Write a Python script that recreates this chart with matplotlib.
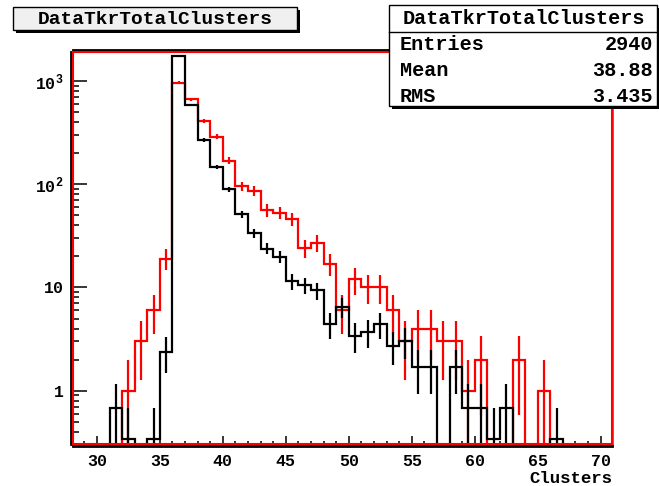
import numpy as np
import matplotlib
matplotlib.use("Agg")
import matplotlib.pyplot as plt
from matplotlib.patches import Rectangle
from matplotlib.ticker import MultipleLocator, FixedLocator, NullFormatter, LogLocator

W, H = 659, 486

# bin lower edges 28..70, width 1
first_edge = 28
red_counts = [0, 0, 0, 0, 1, 3, 6, 19, 959, 662, 411, 288, 169, 96, 86, 56, 53, 46,
              24, 27, 17, 6, 12, 10, 10, 6, 3, 4, 4, 3, 3, 1, 2, 0, 0, 2, 0, 1,
              0, 0, 0, 0, 0]
black_values = [0, 0, 0, 0.68, 0.34, 0, 0.34, 2.38, 1750, 579, 267, 147, 89, 51, 33.4,
                23.8, 19.7, 11.5, 10.5, 9.35, 4.4, 6.5, 3.4, 3.74, 4.4, 2.72, 3.06,
                1.70, 1.70, 0, 1.70, 0.68, 0.68, 0.34, 0.68, 0, 0, 0, 0.34,
                0, 0, 0, 0]
black_weight = 0.34

stats_title = "DataTkrTotalClusters"
stats_rows = [("Entries", "2940"), ("Mean", "38.88"), ("RMS", "3.435")]

plt.rcParams["font.family"] = ["Liberation Mono", "DejaVu Sans Mono"]
plt.rcParams["font.weight"] = "bold"
plt.rcParams["mathtext.fontset"] = "custom"
plt.rcParams["mathtext.rm"] = "Liberation Mono:bold"
plt.rcParams["mathtext.default"] = "rm"


def fx(x):
    return x / W


def fy(y):
    return 1 - y / H


def draw_hist(ax, vals, errs, color):
    vals = np.asarray(vals, dtype=float)
    edges = first_edge + np.arange(len(vals) + 1)
    centers = edges[:-1] + 0.5
    ax.stairs(np.where(vals > 0, vals, 1e-3), edges, color=color, lw=1.6,
              baseline=None, zorder=3)
    m = vals > 0
    lo = np.maximum(vals[m] - errs[m], 1e-3)
    hi = vals[m] + errs[m]
    ax.vlines(centers[m], lo, hi, color=color, lw=1.6, zorder=3)


fig = plt.figure(figsize=(W / 100, H / 100), dpi=100)
ax = fig.add_axes([fx(73), fy(444), (612 - 73) / W, (444 - 52) / H])

red = np.asarray(red_counts, dtype=float)
blk = np.asarray(black_values, dtype=float)
draw_hist(ax, red, np.sqrt(red), "red")
draw_hist(ax, blk, np.sqrt(blk * black_weight), "black")

ax.set_yscale("log")
ax.set_xlim(28.1, 70.9)
ax.set_ylim(0.305, 1900)

ax.xaxis.set_major_locator(MultipleLocator(5))
ax.xaxis.set_minor_locator(MultipleLocator(1))
ax.yaxis.set_major_locator(FixedLocator([1, 10, 100, 1000]))
ax.set_yticklabels(["1", "10", "$10^{2}$", "$10^{3}$"])
ax.yaxis.set_minor_locator(LogLocator(base=10, subs=np.arange(2, 10)))
ax.yaxis.set_minor_formatter(NullFormatter())

ax.tick_params(axis="x", which="major", direction="in", length=7, width=1.1,
               pad=6, labelsize=12)
ax.tick_params(axis="x", which="minor", direction="in", length=3.5, width=1.1)
ax.tick_params(axis="y", which="major", direction="in", length=11.5, width=1.1,
               pad=5, labelsize=12)
ax.tick_params(axis="y", which="minor", direction="in", length=6, width=1.1)

for side in ["left", "bottom", "top"]:
    ax.spines[side].set_color("black")
    ax.spines[side].set_linewidth(2)
    ax.spines[side].set_position(("outward", 1.5))
ax.spines["right"].set_color("red")
ax.spines["right"].set_linewidth(1.8)
ax.add_patch(Rectangle((0, 0), 1, 1, transform=ax.transAxes, fill=False,
                       ec="red", lw=1.5, clip_on=False, zorder=4))

fig.text(fx(612), fy(478), "Clusters", ha="right", va="center", fontsize=12.5,
         fontweight="bold")


def box(x0, y0, x1, y1, fc):
    fig.add_artist(Rectangle((fx(x0 + 3), fy(y1 + 3)), fx(x1 - x0), (y1 - y0) / H,
                             transform=fig.transFigure, fc="black", ec="black",
                             lw=0, zorder=5))
    fig.add_artist(Rectangle((fx(x0), fy(y1)), fx(x1 - x0), (y1 - y0) / H,
                             transform=fig.transFigure, fc=fc, ec="black",
                             lw=1, zorder=6))


# title box
box(13, 7, 297, 30, "#f0f0f0")
fig.text(fx(155), fy(19), stats_title, ha="center", va="center", fontsize=14,
         fontweight="bold", zorder=7)

# stats box
box(389, 5, 657, 106, "white")
fig.add_artist(plt.Line2D([fx(389), fx(657)], [fy(32.5), fy(32.5)],
                          transform=fig.transFigure, color="black", lw=1, zorder=7))
fig.text(fx(524), fy(19), stats_title, ha="center", va="center", fontsize=14.5,
         fontweight="bold", zorder=7)
for (name, val), yy in zip(stats_rows, [45, 70, 96]):
    fig.text(fx(400), fy(yy), name, ha="left", va="center", fontsize=14.5,
             fontweight="bold", zorder=7)
    fig.text(fx(653), fy(yy), val, ha="right", va="center", fontsize=14.5,
             fontweight="bold", zorder=7)

fig.savefig("out.png", dpi=100)
